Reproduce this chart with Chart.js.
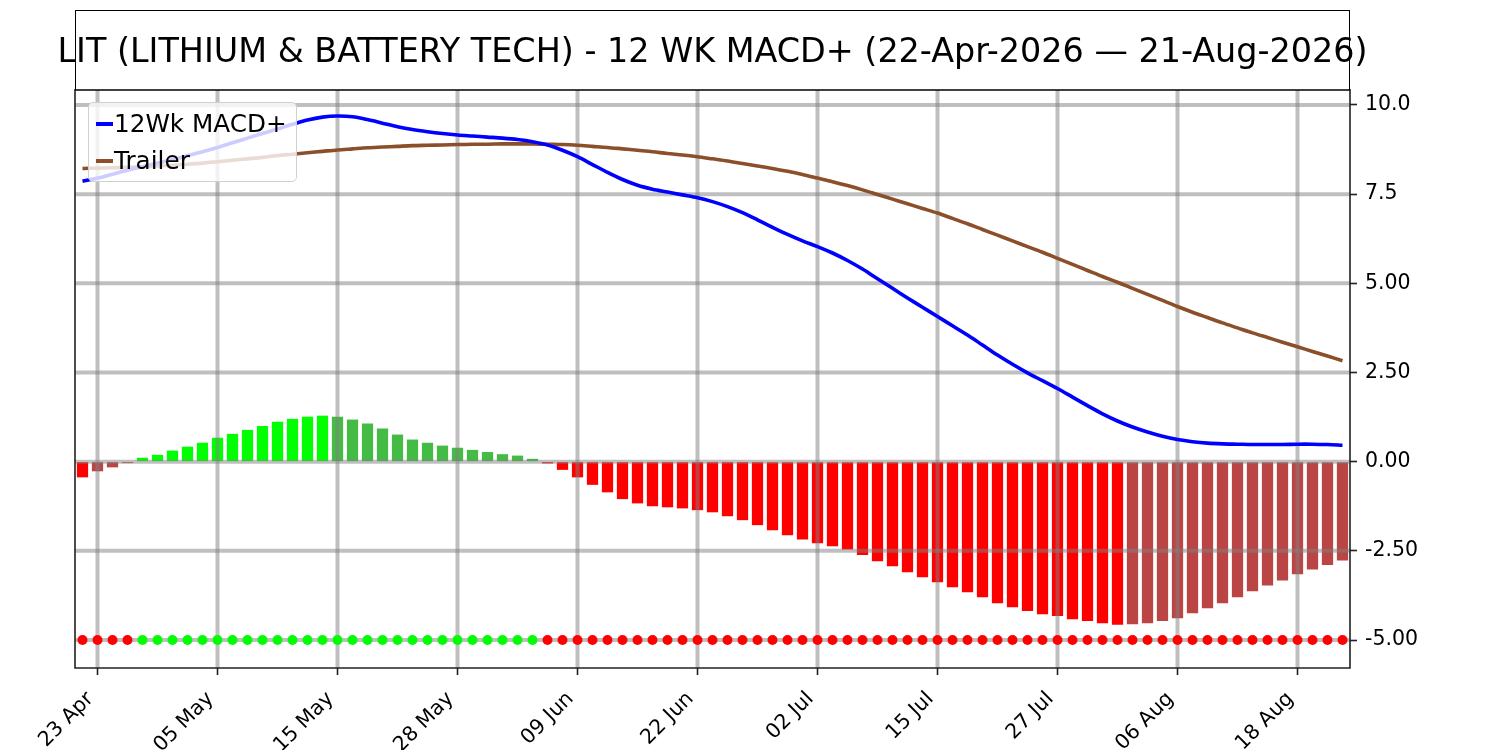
<!DOCTYPE html>
<html>
<head>
<meta charset="utf-8">
<script src="https://cdn.jsdelivr.net/npm/chart.js@4.4.1/dist/chart.umd.min.js"></script>
<style>
  html, body { margin: 0; padding: 0; background: #fff; }
  #wrap { position: relative; width: 1500px; height: 750px; font-family: "DejaVu Sans", sans-serif; }
  #titulo {
    position: absolute; left: 75px; top: 10px; width: 1275px; height: 80px;
    box-sizing: border-box; border: 1.5px solid #000; border-bottom: none;
    display: flex; align-items: center; justify-content: center;
    font-size: 33.4px; white-space: nowrap; color: #000;
  }
  #leyenda {
    position: absolute; left: 88px; top: 102px; width: 209px; height: 80px;
    box-sizing: border-box; padding: 2px 6px 0 7px;
    background: rgba(255,255,255,0.8); border: 1px solid #d0d0d0; border-radius: 5px;
    font-size: 24.7px; color: #000;
  }
  .fila { display: flex; align-items: center; height: 37px; }
  .muestra { width: 17px; height: 4px; margin-right: 1px; }
</style>
</head>
<body>
<div id="wrap">
  <canvas id="grafico" width="1500" height="750"></canvas>
  <div id="titulo">LIT (LITHIUM &amp; BATTERY TECH) - 12 WK MACD+ (22-Apr-2026 — 21-Aug-2026)</div>
  <div id="leyenda">
    <div class="fila"><span class="muestra" style="background:#0000ff"></span>12Wk MACD+</div>
    <div class="fila"><span class="muestra" style="background:#8b4f2a"></span>Trailer</div>
  </div>
</div>
<script>
// fechas (dias habiles)
const fechas = [
  '22 Apr','23 Apr','24 Apr','27 Apr','28 Apr','29 Apr','30 Apr',
  '01 May','04 May','05 May','06 May','07 May','08 May','11 May','12 May','13 May','14 May','15 May',
  '18 May','19 May','20 May','21 May','22 May','26 May','27 May','28 May','29 May',
  '01 Jun','02 Jun','03 Jun','04 Jun','05 Jun','08 Jun','09 Jun','10 Jun','11 Jun','12 Jun',
  '15 Jun','16 Jun','17 Jun','18 Jun','22 Jun','23 Jun','24 Jun','25 Jun','26 Jun','29 Jun','30 Jun',
  '01 Jul','02 Jul','06 Jul','07 Jul','08 Jul','09 Jul','10 Jul','13 Jul','14 Jul','15 Jul',
  '16 Jul','17 Jul','20 Jul','21 Jul','22 Jul','23 Jul','24 Jul','27 Jul','28 Jul','29 Jul','30 Jul','31 Jul',
  '03 Aug','04 Aug','05 Aug','06 Aug','07 Aug','10 Aug','11 Aug','12 Aug','13 Aug','14 Aug',
  '17 Aug','18 Aug','19 Aug','20 Aug','21 Aug'
];

const macd = [
  7.86, 7.95, 8.06, 8.17, 8.27, 8.37, 8.47, 8.58, 8.69, 8.81,
  8.94, 9.07, 9.20, 9.33, 9.46, 9.58, 9.66, 9.69, 9.67, 9.59,
  9.49, 9.39, 9.31, 9.25, 9.20, 9.16, 9.13, 9.10, 9.07, 9.03,
  8.97, 8.88, 8.73, 8.55, 8.33, 8.11, 7.91, 7.75, 7.64, 7.56,
  7.48, 7.40, 7.29, 7.15, 6.98, 6.78, 6.57, 6.37, 6.19, 6.03,
  5.85, 5.64, 5.40, 5.13, 4.86, 4.59, 4.33, 4.07, 3.81, 3.55,
  3.27, 2.99, 2.73, 2.49, 2.27, 2.05, 1.81, 1.57, 1.34, 1.14,
  0.97, 0.83, 0.71, 0.62, 0.56, 0.52, 0.50, 0.49, 0.48, 0.48,
  0.48, 0.49, 0.49, 0.48, 0.46
];

const trailer = [
  8.22, 8.23, 8.24, 8.25, 8.27, 8.29, 8.31, 8.34, 8.37, 8.41,
  8.45, 8.49, 8.53, 8.58, 8.62, 8.66, 8.70, 8.74, 8.77, 8.80,
  8.82, 8.84, 8.86, 8.87, 8.88, 8.89, 8.90, 8.90, 8.91, 8.91,
  8.91, 8.90, 8.89, 8.87, 8.84, 8.81, 8.77, 8.73, 8.69, 8.64,
  8.60, 8.55, 8.49, 8.43, 8.36, 8.29, 8.22, 8.14, 8.05, 7.95,
  7.85, 7.74, 7.62, 7.49, 7.36, 7.23, 7.10, 6.97, 6.82, 6.67,
  6.51, 6.35, 6.19, 6.03, 5.87, 5.70, 5.53, 5.36, 5.19, 5.03,
  4.86, 4.69, 4.52, 4.35, 4.19, 4.04, 3.89, 3.75, 3.61, 3.48,
  3.35, 3.22, 3.09, 2.96, 2.83
];

const histograma = [
  -0.44, -0.27, -0.16, -0.04, 0.11, 0.19, 0.31, 0.42, 0.53, 0.67,
  0.78, 0.89, 1.00, 1.12, 1.20, 1.26, 1.29, 1.26, 1.18, 1.07,
  0.93, 0.76, 0.62, 0.53, 0.45, 0.39, 0.33, 0.27, 0.21, 0.17,
  0.08, -0.05, -0.23, -0.44, -0.65, -0.86, -1.05, -1.17, -1.25, -1.28,
  -1.31, -1.36, -1.42, -1.53, -1.64, -1.78, -1.92, -2.06, -2.18, -2.29,
  -2.37, -2.46, -2.62, -2.79, -2.93, -3.10, -3.24, -3.38, -3.52, -3.66,
  -3.80, -3.97, -4.08, -4.19, -4.28, -4.33, -4.42, -4.47, -4.53, -4.57,
  -4.56, -4.53, -4.47, -4.39, -4.25, -4.11, -3.97, -3.80, -3.63, -3.47,
  -3.33, -3.16, -3.02, -2.90, -2.77
];

// nivel de los puntos de señal
const nivelSenal = -5;

const yTicksValores = [-5, -2.5, 0, 2.5, 5, 7.5, 10];
const yTicksTexto = ['-5.00', '-2.50', '0.00', '2.50', '5.00', '7.5', '10.0'];
const cadaTick = 8; // etiqueta cada 8 dias, empezando en el indice 1

// colores del histograma segun signo y direccion
const coloresBarras = histograma.map((v, i) => {
  const prev = i > 0 ? histograma[i - 1] : 0;
  if (v >= 0) return v >= prev ? '#00ff00' : '#44bb44';
  return v <= prev ? '#ff0000' : '#bb4444';
});
const coloresPuntos = histograma.map(v => v >= 0 ? '#00ff00' : '#ff0000');

// rejilla encima de las barras pero debajo de las lineas
const rejillaPlugin = {
  id: 'rejilla',
  afterDatasetDraw(chart, args) {
    if (args.index !== 0) return;
    const { ctx, chartArea: a, scales: { x, y } } = chart;
    ctx.save();
    ctx.beginPath();
    ctx.rect(a.left, a.top, a.right - a.left, a.bottom - a.top);
    ctx.clip();
    ctx.strokeStyle = 'rgba(128,128,128,0.5)';
    ctx.lineWidth = 4;
    yTicksValores.forEach(v => {
      const py = y.getPixelForValue(v);
      ctx.beginPath(); ctx.moveTo(a.left, py); ctx.lineTo(a.right, py); ctx.stroke();
    });
    fechas.forEach((f, i) => {
      if (i % cadaTick !== 1) return;
      const px = x.getPixelForValue(i);
      ctx.beginPath(); ctx.moveTo(px, a.top); ctx.lineTo(px, a.bottom); ctx.stroke();
    });
    ctx.restore();
  },
  afterDraw(chart) {
    const { ctx, chartArea: a } = chart;
    ctx.save();
    ctx.strokeStyle = '#222';
    ctx.lineWidth = 1.6;
    ctx.beginPath();
    ctx.moveTo(a.left, a.top - 1);
    ctx.lineTo(a.left, a.bottom);
    ctx.lineTo(a.right, a.bottom);
    ctx.lineTo(a.right, a.top - 1);
    ctx.stroke();
    ctx.strokeStyle = '#000';
    ctx.beginPath();
    ctx.moveTo(a.left, a.top); ctx.lineTo(a.right, a.top);
    ctx.stroke();
    ctx.restore();
  }
};

Chart.defaults.font.family = '"DejaVu Sans", sans-serif';
Chart.defaults.color = '#000';

const ctx = document.getElementById('grafico').getContext('2d');

window.graficaMacd = new Chart(ctx, {
  type: 'bar',
  data: {
    labels: fechas,
    datasets: [
      {
        type: 'bar',
        label: 'Histograma',
        data: histograma,
        backgroundColor: coloresBarras,
        borderWidth: 0,
        barPercentage: 0.75,
        categoryPercentage: 1,
        order: 3
      },
      {
        type: 'line',
        label: 'Senal',
        data: fechas.map(() => nivelSenal),
        showLine: false,
        pointRadius: 5,
        pointBorderWidth: 0,
        pointBackgroundColor: coloresPuntos,
        order: 2
      },
      {
        type: 'line',
        label: 'Trailer',
        data: trailer,
        borderColor: '#8b4f2a',
        borderWidth: 3.6,
        pointRadius: 0,
        tension: 0.3,
        order: 1
      },
      {
        type: 'line',
        label: '12Wk MACD+',
        data: macd,
        borderColor: '#0000ff',
        borderWidth: 3.6,
        pointRadius: 0,
        tension: 0.3,
        order: 0
      }
    ]
  },
  options: {
    responsive: false,
    animation: false,
    devicePixelRatio: 1,
    layout: { padding: { left: 75, top: 90, right: 0, bottom: 0 } },
    plugins: {
      legend: { display: false },
      title: { display: false },
      tooltip: { enabled: false }
    },
    scales: {
      x: {
        offset: true,
        grid: { drawOnChartArea: false, drawTicks: true, tickLength: 7, tickColor: '#222', tickWidth: 1.6, offset: false },
        border: { display: false },
        ticks: { autoSkip: false, minRotation: 45, maxRotation: 45, padding: 12, labelOffset: -7, font: { size: 20.5 } },
        afterBuildTicks: s => { s.ticks = s.ticks.filter(t => t.value % cadaTick === 1); },
        afterFit: s => { s.height = 82; }
      },
      y: {
        position: 'right',
        min: -5.785,
        max: 10.42,
        grid: { drawOnChartArea: false, drawTicks: true, tickLength: 7, tickColor: '#222', tickWidth: 1.6 },
        border: { display: false },
        ticks: {
          padding: 8,
          font: { size: 20.5 },
          callback: v => {
            const k = yTicksValores.indexOf(v);
            return k >= 0 ? yTicksTexto[k] : '';
          }
        },
        afterBuildTicks: s => { s.ticks = yTicksValores.map(v => ({ value: v })); },
        afterFit: s => { s.width = 150; }
      }
    }
  },
  plugins: [rejillaPlugin]
});
</script>
</body>
</html>
